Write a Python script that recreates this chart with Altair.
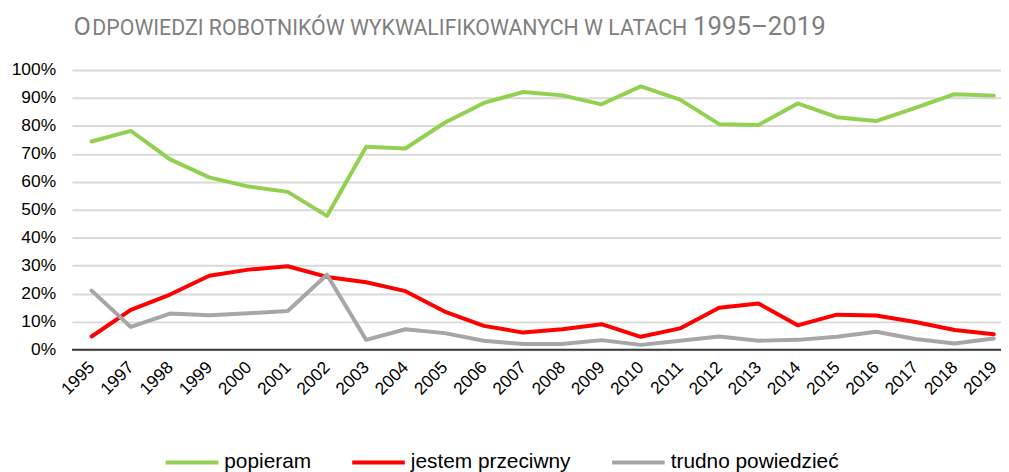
import altair as alt
import pandas as pd

years = ["1995", "1997", "1998", "1999", "2000", "2001", "2002", "2003", "2004", "2005",
         "2006", "2007", "2008", "2009", "2010", "2011", "2012", "2013", "2014", "2015",
         "2016", "2017", "2018", "2019"]
popieram = [74.4, 78.2, 68.0, 61.6, 58.3, 56.4, 47.8, 72.5, 71.9, 81.1,
            88.2, 92.1, 90.9, 87.7, 94.1, 89.4, 80.6, 80.3, 88.0, 83.1,
            81.7, 86.4, 91.3, 90.8]
przeciwny = [4.7, 14.2, 19.7, 26.4, 28.6, 29.8, 26.0, 24.1, 20.9, 13.6,
             8.5, 6.1, 7.3, 9.1, 4.6, 7.6, 15.0, 16.5, 8.7, 12.5,
             12.2, 9.9, 7.0, 5.5]
trudno = [21.1, 8.1, 12.9, 12.3, 13.0, 13.8, 26.8, 3.5, 7.3, 5.9,
          3.2, 2.0, 2.0, 3.4, 1.7, 3.2, 4.7, 3.2, 3.5, 4.6,
          6.4, 3.8, 2.2, 4.0]
series_names = ["popieram", "jestem przeciwny", "trudno powiedzieć"]
series_colors = ["#92D050", "#FF0000", "#A6A6A6"]
y_ticks = [0.0, 0.1, 0.2, 0.3, 0.4, 0.5, 0.6, 0.7, 0.8, 0.9, 1.0]
zero_line = [0.0]

# title pieces (small-caps imitation): big initial, small-caps part, big years
title_big_first = "O"
title_caps = "DPOWIEDZI ROBOTNIKÓW WYKWALIFIKOWANYCH W LATACH"
title_big_years = "1995–2019"

rows = []
for name, vals in zip(series_names, [popieram, przeciwny, trudno]):
    for yr, v in zip(years, vals):
        rows.append({"year": yr, "value": v / 100.0, "series": name})
df = pd.DataFrame(rows)

# layout
W, H = 949, 282
TITLE_COLOR = "#7F7F7F"
TITLE_BASE_Y = -35.5
first_x = 1.5
caps_x = 20.5
years_x = 626.0


def y_enc():
    return alt.Y("value:Q", scale=alt.Scale(domain=[0, 1], nice=False),
                 axis=alt.Axis(title=None, values=y_ticks, format=".0%", grid=True,
                               gridColor="#D9D9D9", gridWidth=2, domain=False, ticks=False,
                               labelPadding=16.5, labelFont="Liberation Sans", labelFontSize=17.5,
                               labelColor="#000000", labelOverlap=False))


lines = alt.Chart(df).mark_line(strokeWidth=4, strokeJoin="round", strokeCap="round").encode(
    x=alt.X("year:O", sort=years,
            scale=alt.Scale(type="point", domain=years, padding=0.5),
            axis=alt.Axis(title=None, labelAngle=-45, labelAlign="right", labelBaseline="middle",
                          labelPadding=15, ticks=False, domain=False, grid=False,
                          labelFont="Liberation Sans", labelFontSize=17.5, labelColor="#000000",
                          labelOverlap=False)),
    y=y_enc(),
    color=alt.Color("series:N",
                    scale=alt.Scale(domain=series_names, range=series_colors),
                    legend=alt.Legend(title=None, orient="none", legendX=92.5, legendY=367,
                                      direction="horizontal", symbolType="stroke",
                                      symbolSize=2809, symbolStrokeWidth=4,
                                      labelFont="Liberation Sans", labelFontSize=21,
                                      labelColor="#000000", columnPadding=33, labelOffset=4,
                                      labelLimit=0, padding=0)),
)

zero = alt.Chart(pd.DataFrame({"value": zero_line})).mark_rule(color="#3A3A3A", strokeWidth=2).encode(
    y=y_enc(), x=alt.value(0), x2=alt.value(W)
)


def title_text(txt, x, size):
    return alt.Chart(pd.DataFrame({"t": [txt]})).mark_text(
        align="left", baseline="alphabetic", font="Roboto", fontSize=size, fontWeight="normal",
        color=TITLE_COLOR).encode(text="t:N", x=alt.value(x), y=alt.value(TITLE_BASE_Y))


title_layers = [
    title_text(title_big_first, first_x, 25.5),
    title_text(title_caps, caps_x, 21.5),
    title_text(title_big_years, years_x, 26),
]

chart = alt.layer(lines, zero, *title_layers).properties(
    width=W, height=H,
    autosize=alt.AutoSizeParams(type="none"),
    padding={"left": 64.5, "top": 60.5, "right": -12.5, "bottom": 129.5},
).configure_view(stroke=None)

chart.save("out.html", embed_options={"renderer": "svg", "actions": False})
